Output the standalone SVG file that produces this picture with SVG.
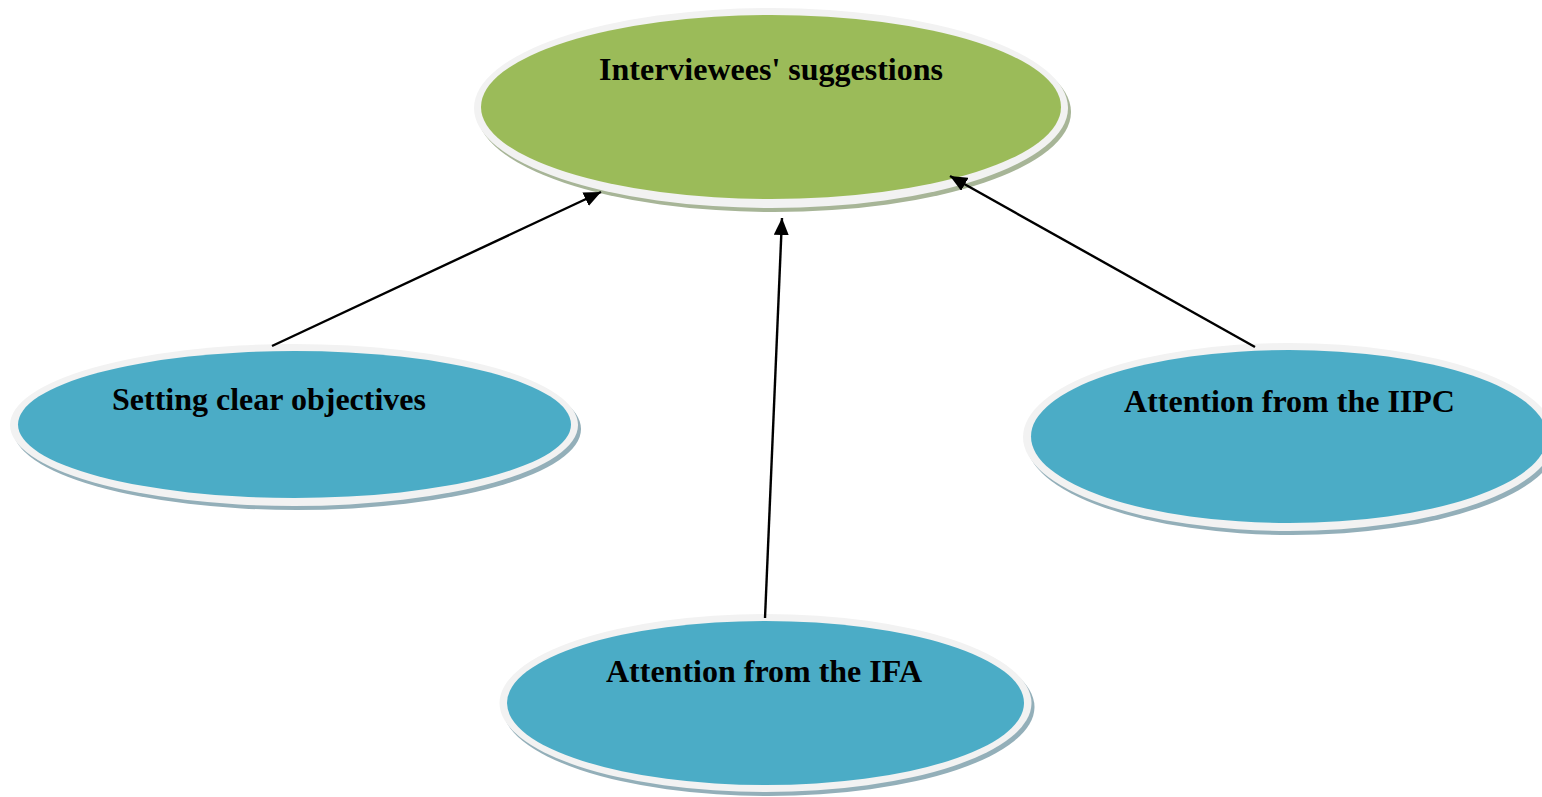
<svg xmlns="http://www.w3.org/2000/svg" width="1542" height="797" viewBox="0 0 1542 797">
<defs>
<style>
.lbl{font-family:"Liberation Serif","Times New Roman",serif;font-weight:bold;font-size:32px;fill:#000;text-anchor:middle}
.ring{fill:#f2f2f2}
.gshadow{fill:#a7b597}
.bshadow{fill:#93afb9}
.green{fill:#9bbb59}
.blue{fill:#4bacc6}
.conn{stroke:#000;stroke-width:2.4;fill:none}
</style>
<marker id="arr" viewBox="0 0 17 15" refX="17" refY="7.5" markerWidth="17" markerHeight="15" orient="auto" markerUnits="userSpaceOnUse">
<path d="M0,0 L17,7.5 L0,15 z" fill="#000"/>
</marker>
</defs>
<rect width="1542" height="797" fill="#fff"/>
<g id="node-top">
<ellipse class="gshadow" cx="774" cy="112" rx="297" ry="100"/>
<ellipse class="ring" cx="771" cy="108" rx="297" ry="100"/>
<ellipse class="green" cx="771" cy="107" rx="290" ry="92"/>
<text class="lbl" x="771" y="80">Interviewees' suggestions</text>
</g>
<g id="node-left">
<ellipse class="bshadow" cx="297" cy="429" rx="284" ry="81"/>
<ellipse class="ring" cx="294" cy="425" rx="284" ry="81"/>
<ellipse class="blue" cx="294.5" cy="424.5" rx="276.5" ry="73.5"/>
<text class="lbl" x="269" y="410">Setting clear objectives</text>
</g>
<g id="node-right">
<ellipse class="bshadow" cx="1292" cy="441" rx="266" ry="94"/>
<ellipse class="ring" cx="1289" cy="437" rx="266" ry="94"/>
<ellipse class="blue" cx="1289" cy="436.5" rx="258" ry="86.5"/>
<text class="lbl" x="1289.5" y="412">Attention from the IIPC</text>
</g>
<g id="node-bottom">
<ellipse class="bshadow" cx="768.5" cy="707" rx="266" ry="89"/>
<ellipse class="ring" cx="765.5" cy="703" rx="266" ry="89"/>
<ellipse class="blue" cx="765.5" cy="703" rx="258.5" ry="82"/>
<text class="lbl" x="764" y="682">Attention from the IFA</text>
</g>
<g id="connectors">
<line class="conn" x1="272" y1="346" x2="601" y2="192" marker-end="url(#arr)"/>
<line class="conn" x1="765" y1="618" x2="782" y2="218" marker-end="url(#arr)"/>
<line class="conn" x1="1255" y1="347" x2="950" y2="176" marker-end="url(#arr)"/>
</g>
</svg>
